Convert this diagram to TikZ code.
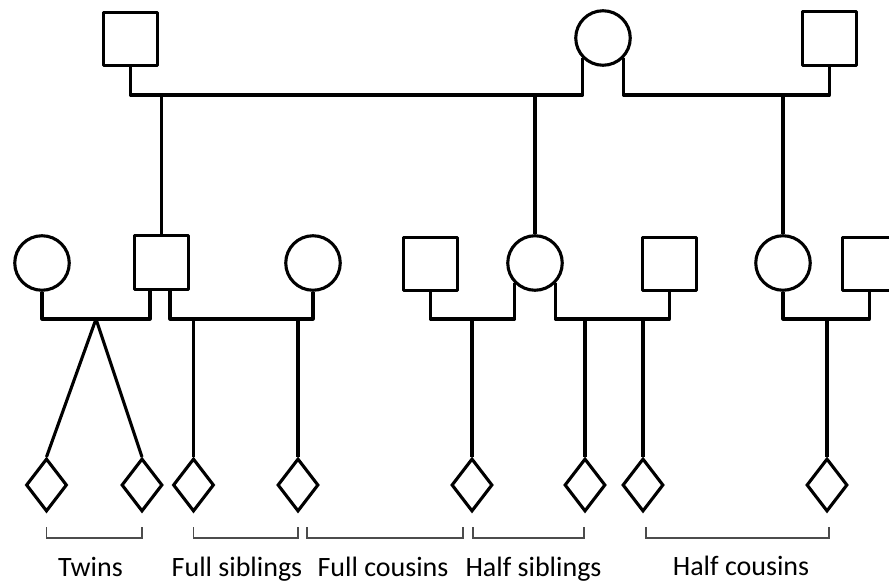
\documentclass[tikz,border=0pt]{standalone}
\usepackage{fontspec}
\setmainfont{Carlito}
\usetikzlibrary{shapes.geometric,calc}
\begin{document}
\begin{tikzpicture}[x=1pt,y=-1pt,
  male/.style={draw, line width=3.1pt, rectangle, minimum size=53.5pt, inner sep=0pt, line join=round},
  female/.style={draw, line width=3.1pt, circle, minimum size=54.5pt, inner sep=0pt},
  child/.style={draw, line width=3.1pt, diamond, minimum width=41pt, minimum height=53pt, inner sep=0pt},
  link/.style={line width=3.1pt, line join=round},
  bracket/.style={line width=1.3pt, black!70},
  lab/.style={anchor=base, font=\fontsize{28}{32}\selectfont, inner sep=0pt}]
\path[use as bounding box, clip] (0,0) rectangle (889,583);
% generation 1
\node[male] (gf1) at (130.5,39) {};
\node[female] (gm) at (603,38) {};
\node[male] (gf2) at (829.5,38.5) {};
% generation 2
\node[female] (m1) at (42,263) {};
\node[male] (f1) at (161.5,262.5) {};
\node[female] (m2) at (313,263) {};
\node[male] (f2) at (430.5,264) {};
\node[female] (m3) at (535,263) {};
\node[male] (f3) at (669.5,264) {};
\node[female] (m4) at (783,263) {};
\node[male] (f4) at (869.5,264) {};
% generation 3
\node[child] (d1) at (46.5,485) {};
\node[child] (d2) at (142,485) {};
\node[child] (d3) at (193.5,485) {};
\node[child] (d4) at (298,485) {};
\node[child] (d5) at (472,485) {};
\node[child] (d6) at (585,485) {};
\node[child] (d7) at (643,485) {};
\node[child] (d8) at (827,485) {};
% bus levels
\coordinate (bt) at (0,95);
\coordinate (bm) at (0,319);
\coordinate (kt) at (0,527);
\coordinate (kb) at (0,538);
% top couples
\draw[link] (gf1.south) |- (gm.south west |- bt) -- (gm.south west);
\draw[link] (gm.south east) |- (gf2.south |- bt) -- (gf2.south);
\draw[link] (f1.north |- bt) -- (f1.north);
\draw[link] (m3.north |- bt) -- (m3.north);
\draw[link] (m4.north |- bt) -- (m4.north);
% second generation couples
\coordinate (f1l) at ($(f1.south)+(-11.5,0)$);
\coordinate (f1r) at ($(f1.south)+(8.5,0)$);
\draw[link] (m1.south) |- (f1l |- bm) -- (f1l);
\draw[link] (f1r) |- (m2.south |- bm) -- (m2.south);
\draw[link] (f2.south) |- (m3.south west |- bm) -- (m3.south west);
\draw[link] (m3.south east) |- (f3.south |- bm) -- (f3.south);
\draw[link] (m4.south) |- (f4.south |- bm) -- (f4.south);
% children
\coordinate (tw) at (96,319);
\draw[link] (d1.north) -- (tw) -- (d2.north);
\draw[link] (d3.north |- bm) -- (d3.north);
\draw[link] (d4.north |- bm) -- (d4.north);
\draw[link] (d5.north |- bm) -- (d5.north);
\draw[link] (d6.north |- bm) -- (d6.north);
\draw[link] (d7.north |- bm) -- (d7.north);
\draw[link] (d8.north |- bm) -- (d8.north);
% brackets
\draw[bracket] (d1.south |- kt) |- (d2.south |- kb) -- (d2.south |- kt);
\draw[bracket] (d3.south |- kt) |- (d4.south |- kb) -- (d4.south |- kt);
\draw[bracket] ($(d4.south |- kt)+(9,0)$) |- ($(d5.south |- kb)+(-9,0)$) -- ($(d5.south |- kt)+(-9,0)$);
\draw[bracket] ($(d5.south |- kt)+(1,0)$) |- ($(d6.south |- kb)+(-1,0)$) -- ($(d6.south |- kt)+(-1,0)$);
\draw[bracket] ($(d7.south |- kt)+(3,0)$) |- ($(d8.south |- kb)+(2,0)$) -- ($(d8.south |- kt)+(2,0)$);
% labels
\node[lab] (t1) at (90.5,576) {Twins};
\node[lab] (t2) at (237,576) {Full siblings};
\node[lab] (t3) at (383,576) {Full cousins};
\node[lab] (t4) at (533.5,576) {Half siblings};
\node[lab] (t5) at (741,575) {Half cousins};
\end{tikzpicture}
\end{document}
